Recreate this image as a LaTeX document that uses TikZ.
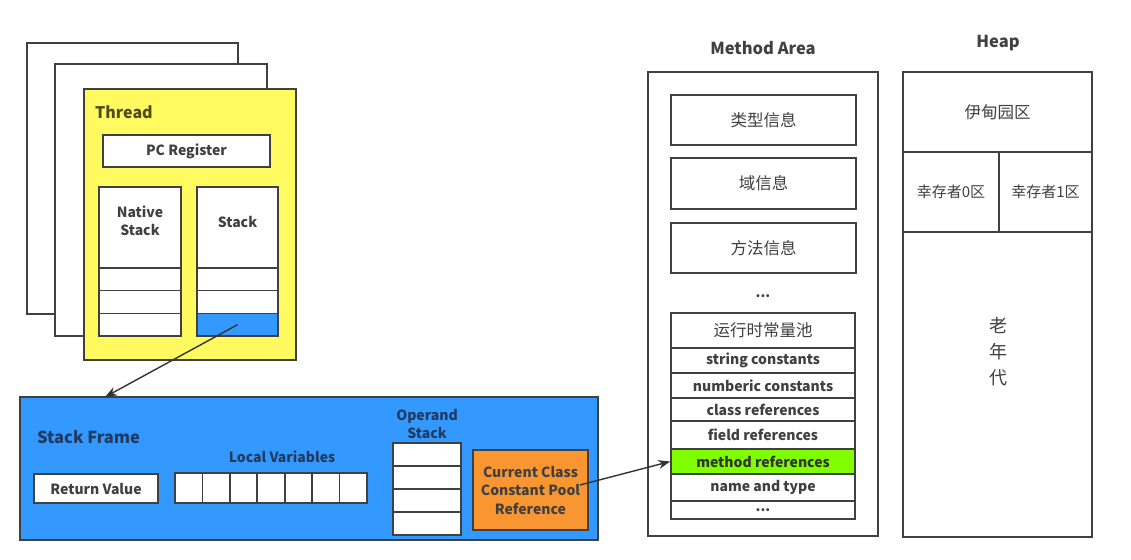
\documentclass[tikz,border=0pt]{standalone}
\usepackage{fontspec}
\setmainfont{Noto Sans CJK SC}
\usetikzlibrary{arrows.meta}
\definecolor{threadyellow}{RGB}{255,250,95}
\definecolor{threadink}{RGB}{80,76,32}
\definecolor{frameblue}{RGB}{51,153,255}
\definecolor{frameink}{RGB}{32,58,96}
\definecolor{poolorange}{RGB}{250,150,50}
\definecolor{refgreen}{RGB}{128,255,0}
\definecolor{inkgray}{RGB}{64,64,64}

\begin{document}
\begin{tikzpicture}[x=1pt, y=-1pt,
    box/.style={draw=inkgray, line width=1.6pt, fill=white, inner sep=0pt,
      text=inkgray, align=center, font=\fontsize{14}{18.5}\selectfont\bfseries},
    sized/.style 2 args={minimum width=#1, minimum height=#2},
    lbl/.style={text=inkgray, inner sep=0pt, align=center,
      font=\fontsize{14}{18}\selectfont\bfseries},
    cjk/.style={font=\fontsize{16.5}{18}\selectfont},
    heading/.style={text=inkgray, inner sep=0pt, font=\fontsize{16.5}{18}\selectfont\bfseries},
    link/.style={-{Stealth[length=12pt, width=9pt]}, line width=1.4pt, draw=black!80}]

  \useasboundingbox (0,0) rectangle (1131,559);

  % --- thread pages stacked behind ---
  \draw[draw=inkgray, line width=1.6pt, fill=white] (27,43) rectangle (238,314);
  \draw[draw=inkgray, line width=1.6pt, fill=white] (55,64) rectangle (267,336);

  % --- thread ---
  \node[box, sized={212}{271}, fill=threadyellow] (thread) at (190,224.5) {};
  \node[heading, text=threadink, anchor=west, font=\fontsize{16}{18}\selectfont\bfseries] (threadlbl) at (95,112) {Thread};
  \node[box, sized={167}{32}] (pc) at (186.5,151) {PC Register};

  % native stack + java stack columns
  \node[box, sized={82}{81}] (native) at (140,227.5) {};
  \node[lbl] (nativelbl) at (140,221) {Native\\Stack};
  \node[box, sized={81}{81}] (stack) at (237.5,227.5) {};
  \node[lbl] (stacklbl) at (237.5,222) {Stack};
  \foreach \y in {279.3, 302, 324.7} {
    \node[box, sized={82}{22.7}] at (140,\y) {};
  }
  \foreach \y in {279.3, 302} {
    \node[box, sized={81}{22.7}] at (237.5,\y) {};
  }
  \node[box, sized={81}{22.7}, fill=frameblue] (stackcur) at (237.5,324.7) {};

  % --- stack frame ---
  \node[box, sized={578}{143}, fill=frameblue] (frame) at (309,468.5) {};
  \node[heading, text=frameink, anchor=west] (framelbl) at (37,437) {Stack Frame};
  \node[box, sized={124}{29}] (retval) at (96,488.5) {Return Value};
  \node[lbl, text=frameink] (locallbl) at (282,457) {Local Variables};
  \foreach \i in {0,...,6} {
    \node[box, sized={27.4}{30}] (local\i) at (188.7+27.43*\i,488) {};
  }
  \node[lbl, text=frameink] (operandlbl) at (427,424) {Operand\\Stack};
  \foreach \i in {0,...,3} {
    \node[box, sized={68}{23}] (operand\i) at (427,454.5+23*\i) {};
  }
  \node[box, sized={115}{80}, fill=poolorange, text=black!75] (poolref) at (530.5,490)
    {Current Class\\Constant Pool\\Reference};

  % --- method area ---
  \node[heading] (methodlbl) at (763,48) {Method Area};
  \node[box, sized={230}{464}] (method) at (763,304) {};
  \node[box, cjk, sized={185}{50}] (typeinfo) at (763.5,120) {类型信息};
  \node[box, cjk, sized={185}{51}] (fieldinfo) at (763.5,183.5) {域信息};
  \node[box, cjk, sized={185}{50}] (methodinfo) at (763.5,248) {方法信息};
  \node[lbl] (moreinfo) at (763,296) {...};

  % runtime constant pool rows
  \node[box, cjk, sized={184}{35}] (pool) at (763,330.5) {运行时常量池};
  \node[box, sized={184}{25}] (strconst) at (763,360.5) {string constants};
  \node[box, sized={184}{25}] (numconst) at (763,385.5) {numberic constants};
  \node[box, sized={184}{23}] (classref) at (763,409.5) {class references};
  \node[box, sized={184}{28}] (fieldref) at (763,435) {field references};
  \node[box, sized={184}{25}, fill=refgreen, text=black!80] (mref) at (763,461.5) {method references};
  \node[box, sized={184}{27}] (nametype) at (763,487.5) {name and type};
  \node[box, sized={184}{18}] (poolmore) at (763,510) {...};

  % --- heap ---
  \node[heading] (heaplbl) at (998,43) {Heap};
  \node[box, cjk, sized={189}{80}] (eden) at (997.5,112) {伊甸园区};
  \node[box, sized={96}{80}, font=\fontsize{15}{17}\selectfont] (surv0) at (951,192) {幸存者0区};
  \node[box, sized={93}{80}, font=\fontsize{15}{17}\selectfont] (surv1) at (1045.5,192) {幸存者1区};
  \node[box, sized={189}{305}] (old) at (997.5,384.5) {};
  \node[lbl, font=\fontsize{18}{26}\selectfont] (oldlbl) at (998,352) {老\\年\\代};

  % --- connectors ---
  \coordinate (framein) at (105,397);
  \coordinate (poolout) at (580,485);
  \draw[link] (stackcur.center) -- (framein);
  \draw[link] (poolout) -- (mref.west);
\end{tikzpicture}
\end{document}
